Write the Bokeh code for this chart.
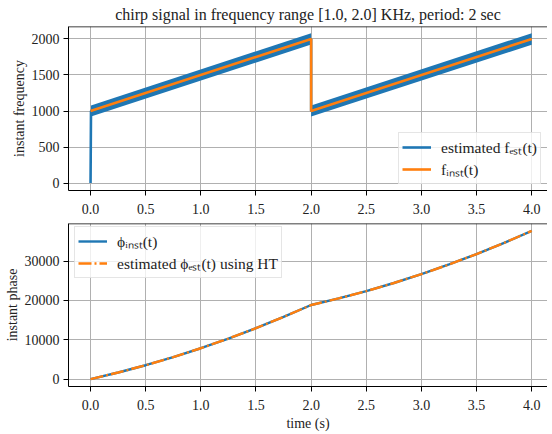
from bokeh.plotting import figure
from bokeh.layouts import column
from bokeh.models import Range1d, FixedTicker, NumeralTickFormatter, Legend, LegendItem, Span
from bokeh.embed import file_html
from bokeh.resources import INLINE

BLUE = "#1f77b4"
ORANGE = "#ff7f0e"
FONT = "Liberation Serif"

# ---- data ----
x_ticks = [0.0, 0.5, 1.0, 1.5, 2.0, 2.5, 3.0, 3.5, 4.0]
freq_ticks = [0, 500, 1000, 1500, 2000]
phase_ticks = [0, 10000, 20000, 30000]
x_lim = (-0.2, 4.143)
freq_lim = (-103, 2173)
phase_lim = (-1885, 39585)

# instantaneous frequency of the chirp (Hz)
f_inst_t = [0.0, 2.0, 2.0, 4.0]
f_inst = [1000, 2000, 1000, 2000]

# estimated frequency: centre line (with start-up spike) and the spread of its ripple
f_est_t = [0.0, 0.004, 2.0, 2.0, 4.0]
f_est = [0, 1000, 2000, 1000, 2000]
band1_t = [0.004, 2.0]
band1_lo = [925, 1922]
band1_hi = [1078, 2080]
band2_t = [2.0, 4.0]
band2_lo = [925, 1920]
band2_hi = [1078, 2080]

# instantaneous phase (rad)
phase_t = [0.0, 0.25, 0.5, 0.75, 1.0, 1.25, 1.5, 1.75, 2.0,
           2.25, 2.5, 2.75, 3.0, 3.25, 3.5, 3.75, 4.0]
phi_inst = [0, 1670, 3530, 5600, 7850, 10310, 12960, 15810, 18850,
            20520, 22380, 24450, 26700, 29160, 31810, 34660, 37700]
phi_est = [0, 1670, 3530, 5600, 7850, 10310, 12960, 15810, 18850,
           20520, 22380, 24450, 26700, 29160, 31810, 34660, 37700]


def style(p, yticks, ytop):
    p.outline_line_color = None
    p.background_fill_color = "white"
    p.border_fill_color = "white"
    p.xaxis.ticker = FixedTicker(ticks=x_ticks)
    p.xaxis.formatter = NumeralTickFormatter(format="0.0")
    p.yaxis.ticker = FixedTicker(ticks=yticks)
    for ax in p.xaxis + p.yaxis:
        ax.axis_line_color = "black"
        ax.axis_line_width = 1
        ax.major_tick_line_color = "black"
        ax.major_tick_out = 5
        ax.major_tick_in = 0
        ax.minor_tick_line_color = None
        ax.major_label_text_font = FONT
        ax.major_label_text_font_size = "14px"
        ax.major_label_text_color = "#222222"
        ax.major_label_standoff = 4
        ax.axis_label_text_font = FONT
        ax.axis_label_text_font_size = "14px"
        ax.axis_label_text_font_style = "normal"
        ax.axis_label_text_color = "#222222"
        ax.axis_label_standoff = 2
    p.xaxis.major_label_standoff = 8
    p.xaxis.axis_label_standoff = 3
    for g in (p.xgrid, p.ygrid):
        g.grid_line_color = "#b0b0b0"
        g.grid_line_width = 1
    p.add_layout(Span(location=ytop, dimension="width", line_color="black", line_width=1.5))


# ---- top panel ----
p1 = figure(frame_width=479, frame_height=164, x_range=Range1d(*x_lim), y_range=Range1d(*freq_lim),
            output_backend="svg", toolbar_location=None, min_border=0,
            min_border_left=68, min_border_right=0, min_border_top=0, min_border_bottom=0,
            title="chirp signal in frequency range [1.0, 2.0] KHz, period: 2 sec")
p1.title.text_font = FONT
p1.title.text_font_size = "16px"
p1.title.text_font_style = "normal"
p1.title.text_color = "#222222"
p1.title.align = "center"
p1.title.standoff = 7
p1.title.offset = 4
style(p1, freq_ticks, freq_lim[1])
p1.yaxis.axis_label = "instant frequency"

p1.varea(x=band1_t, y1=band1_lo, y2=band1_hi, color=BLUE)
p1.varea(x=band2_t, y1=band2_lo, y2=band2_hi, color=BLUE)
r_est = p1.line(f_est_t, f_est, color=BLUE, line_width=2.6)
r_inst = p1.line(f_inst_t, f_inst, color=ORANGE, line_width=2.6)

leg1 = Legend(items=[LegendItem(label="estimated fₑₛₜ(t)", renderers=[r_est]),
                     LegendItem(label="fᵢₙₛₜ(t)", renderers=[r_inst])],
              location=(330, 6))
p1.add_layout(leg1, "center")

# ---- bottom panel ----
p2 = figure(frame_width=479, frame_height=163, x_range=Range1d(*x_lim), y_range=Range1d(*phase_lim),
            output_backend="svg", toolbar_location=None, min_border=0,
            min_border_left=68, min_border_right=0, min_border_top=7, min_border_bottom=0)
style(p2, phase_ticks, phase_lim[1])
p2.yaxis.axis_label = "instant phase"
p2.xaxis.axis_label = "time (s)"

r_pi = p2.line(phase_t, phi_inst, color=BLUE, line_width=2.4)
r_pe = p2.line(phase_t, phi_est, color=ORANGE, line_width=2.4, line_dash="13 3 2 3")

leg2 = Legend(items=[LegendItem(label="ϕᵢₙₛₜ(t)", renderers=[r_pi]),
                     LegendItem(label="estimated ϕₑₛₜ(t) using HT", renderers=[r_pe])],
              location=(6, 108))
p2.add_layout(leg2, "center")

for lg in (leg1, leg2):
    lg.label_text_font = FONT
    lg.label_text_font_size = "15.5px"
    lg.label_text_color = "#222222"
    lg.glyph_width = 29
    lg.glyph_height = 16
    lg.label_height = 16
    lg.label_standoff = 10
    lg.spacing = 0
    lg.padding = 3
    lg.margin = 0
    lg.border_line_color = "#cccccc"
    lg.border_line_width = 1
    lg.background_fill_alpha = 0.8

layout = column(p1, p2, spacing=0)
open("out.html", "w").write(file_html(layout, INLINE))
